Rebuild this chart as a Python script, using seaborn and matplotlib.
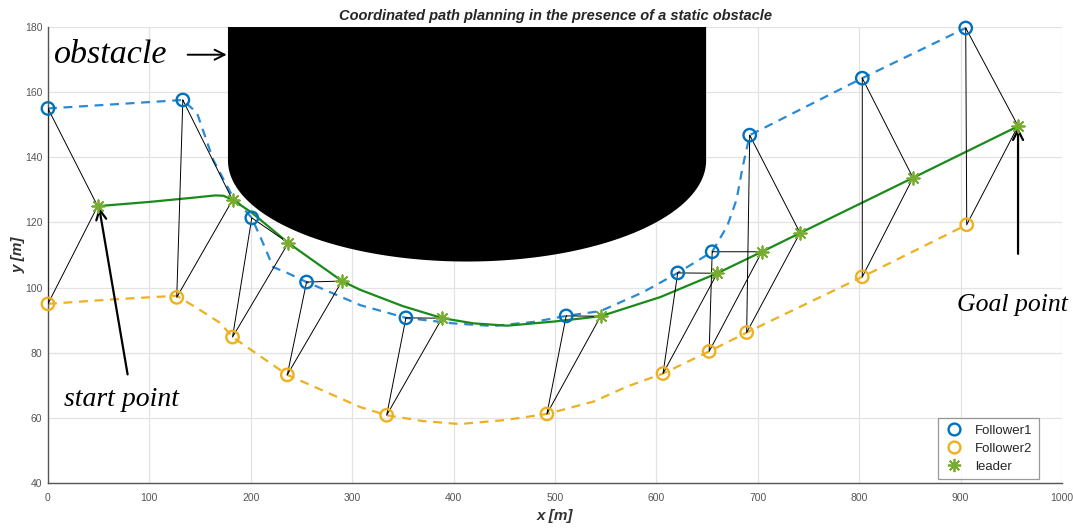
import numpy as np
import pandas as pd
import matplotlib
matplotlib.use('Agg')
import matplotlib.pyplot as plt
from matplotlib.lines import Line2D
import seaborn as sns

# Posiciones de la formacion en cada instante
f1_x = [0, 133, 201, 255, 353, 511, 621, 655, 692, 803, 905]
f1_y = [155, 157.6, 121.4, 101.7, 90.7, 91.3, 104.5, 111, 146.8, 164.3, 179.7]
f2_x = [0, 127, 182, 236, 334, 492, 606.5, 652, 689, 803, 906]
f2_y = [95, 97, 84.8, 73.2, 60.8, 61.2, 73.6, 80.4, 86.2, 103.3, 119.3]
lead_x = [49, 182, 237, 290, 388.6, 545, 660, 704, 741.6, 853, 956.6]
lead_y = [125, 126.9, 113.7, 102, 90.6, 91.2, 104.4, 111, 116.8, 133.7, 149.6]

# Trayectorias
lead_path_x = [49, 100, 140, 165, 173, 182, 201, 237, 290, 308, 350, 389, 420, 453, 500, 545, 604, 660, 704, 742, 853, 957]
lead_path_y = [125, 126.3, 127.5, 128.3, 128.2, 127, 123, 113.7, 102, 99.3, 94.3, 90.6, 89, 88.3, 89.6, 91.2, 97.1, 104.4, 111, 116.8, 133.7, 149.6]
f1_path_x = [0, 133, 147, 163, 182, 201, 212, 222, 236, 255, 308, 353, 400, 439, 480, 511, 545, 587, 621, 655, 670, 679, 685, 692, 803, 905]
f1_path_y = [155, 157.6, 153.6, 139.2, 128, 121.4, 113.7, 106.3, 104.5, 101.7, 94.6, 90.7, 89, 88.2, 89.5, 91.3, 92.8, 98.6, 104.5, 111, 119, 127, 137, 146.8, 164.3, 179.7]
f2_path_x = [0, 60, 127, 150, 170, 182, 236, 308, 334, 370, 406, 450, 492, 538, 571, 606.5, 652, 689, 803, 906]
f2_path_y = [95, 96.3, 97.5, 93.1, 89.1, 84.8, 73.2, 63.3, 60.8, 59, 58.1, 59.3, 61.2, 65, 69.6, 73.6, 80.4, 86.2, 103.3, 119.3]

# Obstaculo: rectangulo + media elipse
obs_left, obs_right = 177.5, 649
obs_top, obs_mid, obs_bottom = 180, 139, 108

x_ticks = [0, 100, 200, 300, 400, 500, 600, 700, 800, 900, 1000]
y_ticks = [40, 60, 80, 100, 120, 140, 160, 180]

blue = '#0072BD'
blue_line = '#2a8ad4'
yellow = '#EDB120'
green_line = '#1a8a1a'
green_mark = '#77AC30'

sns.set_style('white')
plt.rcParams['font.family'] = ['Liberation Sans', 'DejaVu Sans']

fig = plt.figure(figsize=(10.73, 5.30), dpi=100)
ax = fig.add_axes([0.0447, 0.0887, 0.9451, 0.8603])

# obstaculo
cx = (obs_left + obs_right) / 2
a = (obs_right - obs_left) / 2
t = np.linspace(np.pi, 2 * np.pi, 200)
ox = np.concatenate([[obs_left], cx + a * np.cos(t), [obs_right]])
oy = np.concatenate([[obs_top], obs_mid + (obs_mid - obs_bottom) * np.sin(t), [obs_top]])
ax.fill(ox, oy, color='black', zorder=1.5, lw=0)

# triangulos de la formacion
rows = []
for i in range(len(lead_x)):
    for px, py in [(f1_x[i], f1_y[i]), (lead_x[i], lead_y[i]), (f2_x[i], f2_y[i]), (f1_x[i], f1_y[i])]:
        rows.append({'formacion': i, 'x': px, 'y': py})
tri = pd.DataFrame(rows)
sns.lineplot(data=tri, x='x', y='y', units='formacion', estimator=None, sort=False,
             color='black', lw=0.7, ax=ax, zorder=3)

# trayectorias
sns.lineplot(x=f1_path_x, y=f1_path_y, sort=False, estimator=None, color=blue_line,
             lw=1.6, linestyle=(0, (4, 3)), ax=ax, zorder=2)
sns.lineplot(x=f2_path_x, y=f2_path_y, sort=False, estimator=None, color=yellow,
             lw=1.6, linestyle=(0, (4, 3)), ax=ax, zorder=2)
sns.lineplot(x=lead_path_x, y=lead_path_y, sort=False, estimator=None, color=green_line,
             lw=1.6, ax=ax, zorder=2)

# marcadores
sns.scatterplot(x=f1_x, y=f1_y, marker='o', s=80, color=blue, facecolor='none',
                edgecolor=blue, linewidth=1.7, ax=ax, zorder=4, clip_on=False)
sns.scatterplot(x=f2_x, y=f2_y, marker='o', s=80, color=yellow, facecolor='none',
                edgecolor=yellow, linewidth=1.7, ax=ax, zorder=4, clip_on=False)
sns.scatterplot(x=lead_x, y=lead_y, marker=(8, 2, 0), s=80, color=green_mark,
                linewidth=1.3, ax=ax, zorder=4, clip_on=False)

# anotaciones
ann = dict(family=['Liberation Serif', 'DejaVu Serif'], style='italic', color='black')
ax.text(6, 171.5, 'obstacle', fontsize=24.5, va='center', ha='left', **ann)
ax.annotate('', xy=(179, 171.5), xytext=(135, 171.5),
            arrowprops=dict(arrowstyle='->', lw=1.4, color='black', mutation_scale=18))
ax.text(16, 65.5, 'start point', fontsize=20, va='center', ha='left', **ann)
ax.annotate('', xy=(50, 125.5), xytext=(79, 72.5),
            arrowprops=dict(arrowstyle='->', lw=1.6, color='black', mutation_scale=18))
ax.text(896, 94.5, 'Goal point', fontsize=18.5, va='center', ha='left', **ann)
ax.annotate('', xy=(956.6, 150), xytext=(956.6, 109.5),
            arrowprops=dict(arrowstyle='->', lw=1.6, color='black', mutation_scale=18))

ax.set_xlim(0, 1000)
ax.set_ylim(40, 180)
ax.set_xticks(x_ticks)
ax.set_yticks(y_ticks)
ax.grid(True, color='#e3e3e3', lw=0.9)
ax.set_axisbelow(True)
for s in ['top', 'right']:
    ax.spines[s].set_visible(False)
for s in ['left', 'bottom']:
    ax.spines[s].set_color('#555555')
    ax.spines[s].set_linewidth(1.0)
ax.tick_params(direction='in', length=7.5, width=1.0, color='#555555',
               labelcolor='#555555', labelsize=7.5)
ax.tick_params(axis='x', pad=7)
ax.tick_params(axis='y', pad=4)

ax.set_title('Coordinated path planning in the presence of a static obstacle',
             fontsize=10.5, fontweight='bold', fontstyle='italic', pad=5)
ax.set_xlabel('x [m]', fontsize=11, fontweight='bold', fontstyle='italic',
              color='#333333')
ax.set_ylabel('y [m]', fontsize=11, fontweight='bold', fontstyle='italic',
              color='#333333')
ax.xaxis.set_label_coords(0.5, -0.058)
ax.yaxis.set_label_coords(-0.022, 0.5)

handles = [
    Line2D([], [], ls='none', marker='o', ms=8.5, mfc='none', mec=blue, mew=1.7, label='Follower1'),
    Line2D([], [], ls='none', marker='o', ms=8.5, mfc='none', mec=yellow, mew=1.7, label='Follower2'),
    Line2D([], [], ls='none', marker=(8, 2, 0), ms=9.5, color=green_mark, mew=1.3, label='leader'),
]
leg = ax.legend(handles=handles, loc='lower right', bbox_to_anchor=(0.977, 0.009),
                fontsize=9.5, frameon=True, fancybox=False, edgecolor='#808080',
                handletextpad=0.8, borderpad=0.45, labelspacing=0.45, handlelength=1.6,
                borderaxespad=0)
leg.get_frame().set_linewidth(0.9)

fig.savefig('out.png', dpi=100)
